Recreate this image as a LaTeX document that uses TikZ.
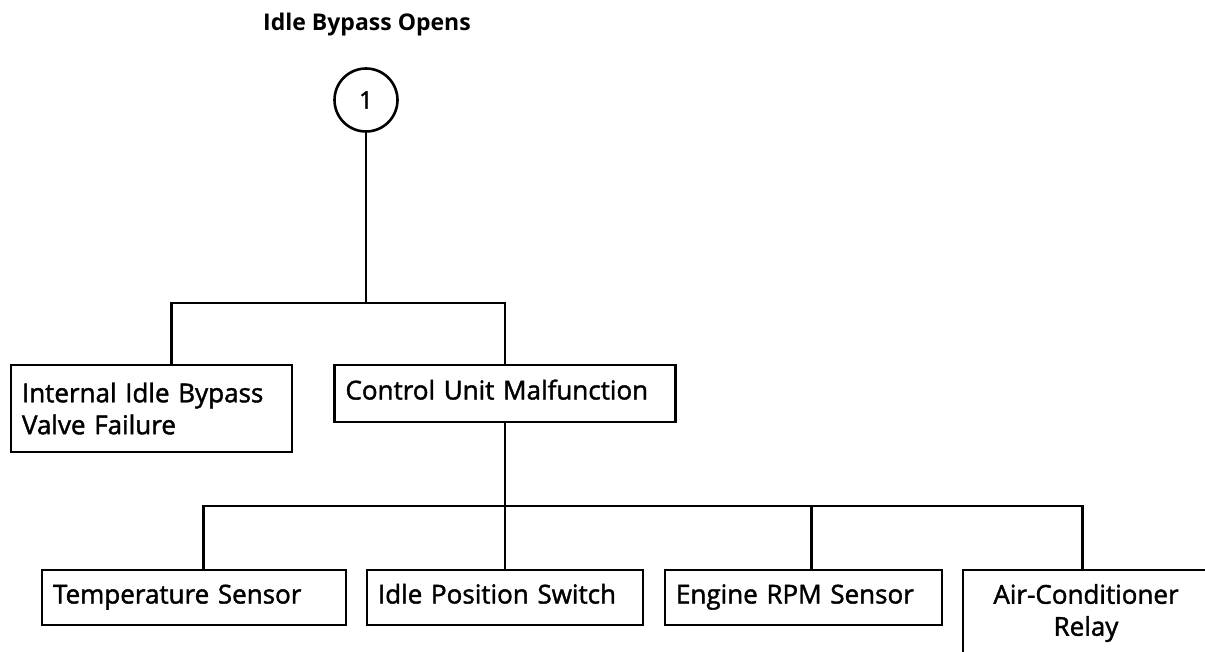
\documentclass[tikz,border=0pt]{standalone}
\usepackage{fontspec}
\setmainfont{Open Sans}
\newfontfamily\boxfont[FakeBold=1.6]{Open Sans}
\begin{document}
\begin{tikzpicture}[x=1pt,y=-1pt,
  line/.style={line width=2.6pt},
  box/.style={draw, line width=2.6pt, inner xsep=11pt, inner ysep=0pt, align=left,
    font=\boxfont\fontsize{26}{32}\selectfont},
  onel/.style={text height=18pt, text depth=6pt},
  ]
\useasboundingbox (0,0) rectangle (1205,652);
\fill[white] (0,0) rectangle (1205,652);
\clip (0,0) rectangle (1205,652);

\node[font=\bfseries\fontsize{23}{28}\selectfont, anchor=base] (title) at (367,31) {Idle Bypass Opens};
\node[circle, draw, line width=2.6pt, minimum size=63pt, inner sep=0pt,
  font=\boxfont\fontsize{24}{28}\selectfont] (c1) at (366,100) {1};

\node[box, text width=259pt, minimum height=87pt] (ib) at (151.5,408.5) {Internal Idle Bypass\\Valve Failure};
\node[box, onel, text width=319pt, minimum height=57pt] (cu) at (505,393.5) {Control Unit Malfunction};

\node[box, onel, text width=282pt, minimum height=55pt] (ts) at (194,597.5) {Temperature Sensor};
\node[box, onel, text width=254pt, minimum height=55pt] (ip) at (505,597.5) {Idle Position Switch};
\node[box, onel, text width=255pt, minimum height=55pt] (er) at (803.5,597.5) {Engine RPM Sensor};
\node[box, align=center, text width=224pt, minimum height=86pt] (ac) at (1086,613) {Air-Conditioner\\Relay};

\coordinate (j1) at (366,303);
\coordinate (j2) at (505,506);

\draw[line] (c1.south) -- (j1);
\draw[line] ([xshift=162pt]ib.north west) |- (j1) -| (cu.north);

\draw[line] (cu.south) -- (j2);
\draw[line] ([xshift=163pt]ts.north west) |- (j2) -| ([xshift=121pt]ac.north west);
\draw[line] (ip.north) -- (j2);
\draw[line] ([xshift=148pt]er.north west) |- (j2);
\end{tikzpicture}
\end{document}
